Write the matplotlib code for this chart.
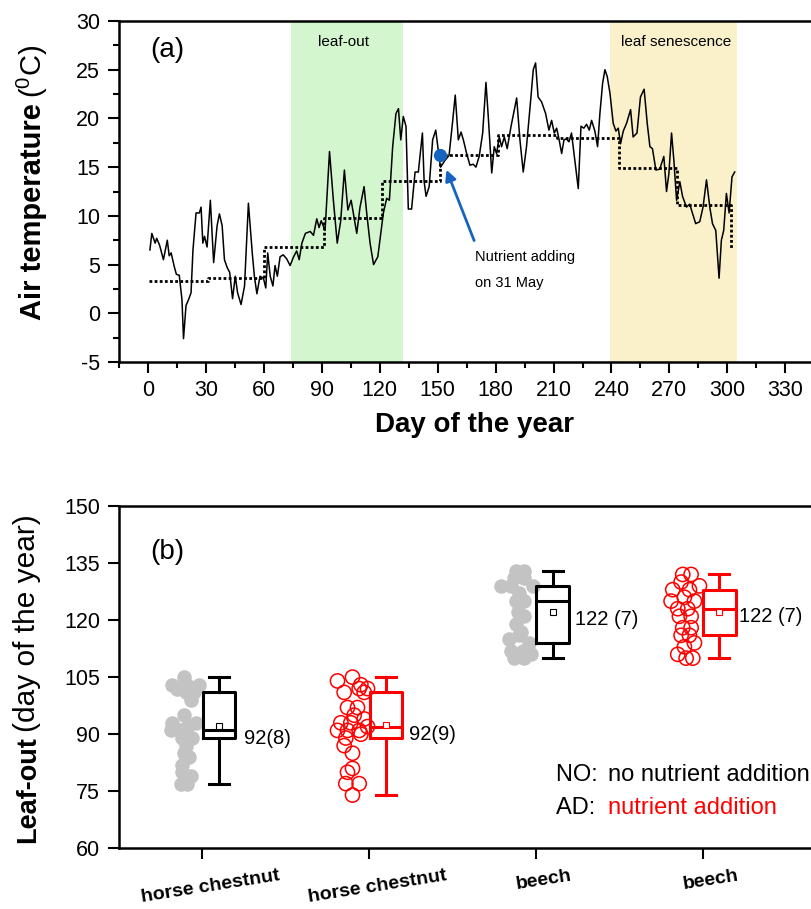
import numpy as np
import matplotlib
matplotlib.use('Agg')
import matplotlib.pyplot as plt
from matplotlib.transforms import ScaledTranslation

plt.rcParams['font.family'] = ['Liberation Sans', 'DejaVu Sans']
plt.rcParams['mathtext.fontset'] = 'custom'
plt.rcParams['mathtext.rm'] = 'Liberation Sans'
plt.rcParams['mathtext.it'] = 'Liberation Sans'
plt.rcParams['axes.unicode_minus'] = False

# ---- (a) daily air temperature
days = [1, 2, 3.7, 4.5, 6, 8, 10, 11, 12, 13.6, 14.7, 16.2, 17.6, 18.4, 19.7, 21, 22.3, 23.3,
        24.9, 26.6, 27.5, 28.4, 29.3, 30.6, 32.3, 34, 35.8, 37, 38.4, 39.6, 41, 42.3, 43.8,
        45.2, 46.4, 48.2, 50, 52, 54, 55.1, 56.4, 58, 59.8, 61, 62, 63.3, 64.7, 65.8, 67,
        68.4, 70, 71.8, 73.6, 75.4, 77, 78.3, 79.7, 81.5, 84, 85.7, 87.4, 88.6, 89.7, 91.7,
        94, 96, 98, 99.8, 101.7, 103.5, 105.2, 108.1, 109.8, 111.9, 113.3, 115, 116.8, 119,
        121.9, 123.6, 125, 126.7, 128.4, 129.7, 130.9, 132.2, 133.6, 134.8, 136.5, 138.3,
        140, 142.1, 143, 144, 145.6, 147.4, 149, 150.7, 151.5, 153.8, 155.9, 157.8, 159.1,
        160.7, 162.1, 163.3, 165, 166.7, 168.4, 169.8, 171.5, 173.3, 175, 176.2, 178, 179.3,
        180.5, 181.9, 183.1, 184.5, 186, 188, 190.9, 192.6, 194.3, 196, 198.3, 199.5, 200.7,
        202, 203.8, 205.9, 207.6, 209, 210.4, 211.6, 212.9, 214.2, 215.4, 216.6, 218, 219.3,
        221, 222.8, 224.2, 225.7, 227.1, 228.5, 229.7, 231.4, 232.8, 234, 235.4, 236.6,
        237.8, 239.2, 240.9, 242.3, 243.5, 244.7, 246.1, 247.8, 249.9, 251.2, 253.2, 255,
        256.9, 258.5, 259.9, 261.2, 263, 265, 267.1, 268.5, 269.7, 271.1, 272.3, 273.7,
        275.4, 276.8, 278.8, 280.5, 281.9, 283.6, 285.7, 287.4, 289.2, 290.9, 292.3, 294,
        295.7, 296.9, 298.1, 299.5, 300.9, 302.4, 303.8]
temps = [6.5, 8.2, 7.2, 7.7, 7.0, 5.5, 7.5, 5.9, 6.2, 4.8, 4.0, 3.9, 1.4, -2.6, 0.8, 1.4, 2.1, 6.5,
         10.3, 10.3, 10.9, 7.2, 7.9, 6.8, 11.6, 5.2, 9.0, 10.2, 9.0, 5.5, 4.7, 4.2, 1.5,
         3.8, 2.1, 0.9, 2.8, 11.3, 6.2, 3.8, 2.0, 3.8, 3.6, 2.6, 6.2, 3.8, 2.8, 4.9, 3.8,
         5.8, 6.0, 5.6, 4.9, 5.8, 6.4, 5.5, 7.2, 8.2, 8.4, 8.0, 9.7, 8.8, 9.5, 8.5,
         16.6, 11.6, 7.2, 9.5, 14.7, 10.6, 11.6, 8.2, 10.9, 13.0, 10.2, 7.2, 5.0, 5.8,
         10.3, 11.8, 11.6, 17.1, 20.5, 21.0, 17.8, 20.2, 19.2, 10.7, 10.7, 14.5,
         14.5, 18.5, 13.5, 12.0, 13.0, 17.8, 18.8, 16.1, 15.0, 15.7, 16.2, 19.8, 22.4,
         17.8, 18.6, 17.8, 16.4, 15.2, 15.3, 15.0, 16.1, 18.5, 23.7, 20.2, 14.4, 17.1,
         16.4, 18.1, 17.1, 18.1, 16.9, 19.2, 22.1, 17.8, 14.5, 17.1, 22.2, 25.0, 25.7,
         22.2, 21.7, 20.5, 18.8, 19.8, 18.5, 19.0, 17.8, 16.4, 17.8, 17.9, 17.6, 18.5,
         15.7, 12.8, 19.2, 19.0, 19.4, 18.8, 19.8, 18.7, 17.1, 20.5, 23.6, 25.0,
         24.3, 22.6, 19.5, 18.7, 19.0, 17.4, 18.7, 19.5, 20.9, 18.1, 18.5, 22.2,
         23.0, 19.5, 17.1, 16.9, 14.7, 14.8, 16.1, 12.5, 14.3, 18.5, 15.7, 11.6,
         13.5, 12.0, 10.9, 11.2, 10.3, 9.2, 9.4, 10.9, 13.7, 10.9, 9.2, 8.5,
         3.6, 7.5, 8.5, 12.3, 10.3, 14.0, 14.5]

# monthly means (dotted steps): start day of each step and its mean
month_start = [0.7, 31, 60, 91, 121, 151, 181, 212, 244, 274, 302]
month_mean = [3.3, 3.6, 6.8, 9.8, 13.6, 16.2, 18.3, 18.0, 14.9, 11.1, 6.7]

leafout_span = (74, 132)
senescence_span = (239, 305)
nutrient_day, nutrient_temp = 151, 16.2

# ---- (b) leaf-out dates
species = ['horse chestnut', 'horse chestnut', 'beech', 'beech']
hc_no = [103, 105, 103, 103, 102, 101, 101, 99, 95, 93, 93, 91, 91, 92, 89, 89, 87, 85, 84, 82,
         80, 79, 77, 77]
hc_ad = [104, 105, 103, 101, 102, 102, 101, 97, 97, 95, 94, 93, 93, 91, 91, 91, 92, 90, 89, 87,
         85, 81, 80, 77, 77, 74]
be_no = [133, 133, 131, 131, 129, 129, 129, 127, 125, 125, 122, 121, 119, 117, 115, 116, 114,
         112, 112, 111, 110, 110]
be_ad = [128, 132, 132, 129, 130, 128, 125, 126, 125, 123, 123, 121, 121, 118, 118, 116, 116,
         114, 113, 111, 110, 110]
# box statistics as drawn (whisker low, q1, median, q3, whisker high, mean)
box_stats = [(77, 89, 91, 101, 105, 92.2),
             (74, 89, 92, 101, 105, 92.5),
             (110, 114, 125, 129, 133, 122),
             (110, 116, 123, 128, 132, 122)]
box_labels = ['92(8)', '92(9)', '122 (7)', '122 (7)']

# horizontal jitter of the dots as they sit in the picture
hc_no_dx = [-0.07, 0.0, 0.02, 0.09, -0.04, 0.01, 0.06, 0.04, 0.0, -0.07, 0.07, -0.08, -0.02, 0.02,
            0.05, -0.01, 0.01, 0.0, 0.03, -0.01, -0.01, 0.04, -0.02, 0.02]
hc_ad_dx = [-0.09, 0.0, 0.05, -0.05, 0.04, 0.09, 0.07, -0.03, 0.03, 0.01, 0.07, -0.07, -0.01,
            -0.09, -0.03, 0.04, 0.09, 0.05, -0.04, -0.05, 0.0, 0.0, -0.03, -0.04, 0.04, 0.0]
be_no_dx = [-0.01, 0.04, -0.02, 0.04, -0.1, -0.04, 0.09, 0.01, -0.01, 0.04, 0.0, 0.04, -0.01,
            0.02, -0.05, 0.01, 0.07, -0.04, 0.03, 0.08, -0.02, 0.04]
be_ad_dx = [-0.07, -0.01, 0.04, 0.09, -0.02, 0.03, -0.08, 0.0, 0.06, -0.04, 0.02, 0.04, -0.03,
            -0.01, 0.04, -0.02, 0.03, 0.06, 0.0, -0.04, 0.01, 0.05]

W, H = 812, 909
fig = plt.figure(figsize=(W / 100, H / 100), dpi=100)

# ================= panel (a)
ax1 = fig.add_axes([119 / W, 1 - 362 / H, 733.9 / W, 341 / H])
ax1.axvspan(*leafout_span, color='#d3f6cf', lw=0)
ax1.axvspan(*senescence_span, color='#faf0ca', lw=0)
ax1.plot(days, temps, color='black', lw=1.1)
ax1.plot(month_start, month_mean, color='black', lw=2, ls=(0, (1, 0.85)), drawstyle='steps-post')
ax1.plot([nutrient_day], [nutrient_temp], 'o', color='#1565c0', ms=8.5)
ax1.annotate('', xy=(154, 15.0), xytext=(169.4, 7.2),
             arrowprops=dict(arrowstyle='-|>', color='#1565c0', lw=2, mutation_scale=16))
ax1.text(169.4, 5.8, 'Nutrient adding', fontsize=10.5, va='center', ha='left')
ax1.text(169.4, 3.1, 'on 31 May', fontsize=10.5, va='center', ha='left')
ax1.text(101, 27.8, 'leaf-out', fontsize=11, ha='center', va='center')
ax1.text(273.5, 27.8, 'leaf senescence', fontsize=11, ha='center', va='center')
ax1.text(9.8, 27.0, '(a)', fontsize=20, ha='center', va='center')

ax1.set_xlim(-15, 365)
ax1.set_ylim(-5, 30)
ax1.set_xticks(range(0, 331, 30))
ax1.set_xticks(range(-15, 360, 15), minor=True)
ax1.set_yticks(range(-5, 31, 5))
ax1.set_yticks(np.arange(-5, 30.1, 2.5), minor=True)
ax1.tick_params(which='both', direction='out', width=1.5, labelsize=15.5, top=False, right=False)
ax1.tick_params(which='major', length=8)
ax1.tick_params(which='minor', length=4)
ax1.tick_params(axis='x', pad=5)
ax1.tick_params(axis='y', pad=5.5)
for s in ax1.spines.values():
    s.set_linewidth(1.8)
fig.text(475 / W, 1 - 425 / H, 'Day of the year', fontsize=20, fontweight='bold',
         ha='center', va='center')

# ================= panel (b)
ax2 = fig.add_axes([119 / W, 1 - 848.3 / H, 733.9 / W, 342.3 / H])
groups = [(hc_no, hc_no_dx, 0.89), (hc_ad, hc_ad_dx, 1.90),
          (be_no, be_no_dx, 2.89), (be_ad, be_ad_dx, 3.89)]
colors = ['black', 'red', 'black', 'red']
for i, (vals, dx, x0) in enumerate(groups):
    xs = [x0 + d for d in dx]
    if colors[i] == 'black':
        ax2.scatter(xs, vals, s=110, color='#c3c3c3', lw=0, zorder=2)
    else:
        ax2.scatter(xs, vals, s=105, facecolors='none', edgecolors='red', lw=1.1, zorder=2)

for i, (lo, q1, med, q3, hi, mean) in enumerate(box_stats):
    c = colors[i]
    st = dict(whislo=lo, q1=q1, med=med, q3=q3, whishi=hi, mean=mean, fliers=[])
    ax2.bxp([st], positions=[i + 1.10], widths=0.196, capwidths=0.12, showmeans=True,
            showfliers=False, patch_artist=False,
            boxprops=dict(color=c, lw=2.2), medianprops=dict(color=c, lw=2.2),
            whiskerprops=dict(color=c, lw=2.2), capprops=dict(color=c, lw=2.2),
            meanprops=dict(marker='s', markerfacecolor='white', markeredgecolor=c,
                           markersize=5, markeredgewidth=0.8))

label_pos = [(1.25, 88.9), (2.24, 89.8), (3.234, 120.2), (4.216, 120.9)]
for (x, y), s in zip(label_pos, box_labels):
    ax2.text(x, y, s, fontsize=14.5, ha='left', va='center')

ax2.text(0.79, 138.0, '(b)', fontsize=20, ha='center', va='center')
ax2.text(3.12, 79.3, 'NO: ', fontsize=17, ha='left', va='center')
ax2.text(3.43, 79.3, 'no nutrient addition', fontsize=17, ha='left', va='center')
ax2.text(3.12, 70.5, 'AD: ', fontsize=17, ha='left', va='center')
ax2.text(3.43, 70.5, 'nutrient addition', fontsize=17, ha='left', va='center', color='red')

ax2.set_xlim(0.5, 4.9)
ax2.set_ylim(60, 150)
ax2.set_yticks(range(60, 151, 15))
ax2.set_xticks([1, 2, 3, 4])
ax2.set_xticklabels(species, rotation=9, fontsize=14, fontweight='bold')
ax2.tick_params(direction='out', width=1.5, length=8, labelsize=15.5, top=False, right=False)
ax2.tick_params(axis='x', labelsize=14, pad=6)
ax2.tick_params(axis='y', pad=5.5)
for lab in ax2.get_xticklabels():
    lab.set_transform(lab.get_transform() + ScaledTranslation(0.08, 0, fig.dpi_scale_trans))
for s in ax2.spines.values():
    s.set_linewidth(1.8)


def stacked_ylabel(x_px, y_px, parts):
    # rotated label made of pieces with different weights, stacked bottom to top
    r = fig.canvas.get_renderer()
    for s, weight, size, gap in parts:
        t = fig.text(x_px / W, 1 - y_px / H, s, rotation=90, rotation_mode='anchor',
                     ha='left', va='baseline', fontsize=size, fontweight=weight)
        bb = t.get_window_extent(r)
        y_px = H - bb.y1 - gap


stacked_ylabel(41.5, 320, [('Air temperature', 'bold', 21, 5), ('($^0$C)', 'normal', 21, 0)])
stacked_ylabel(35, 843, [('Leaf-out', 'bold', 19.5, 4), ('(day of the year)', 'normal', 21.5, 0)])

fig.savefig('out.png', dpi=100)
